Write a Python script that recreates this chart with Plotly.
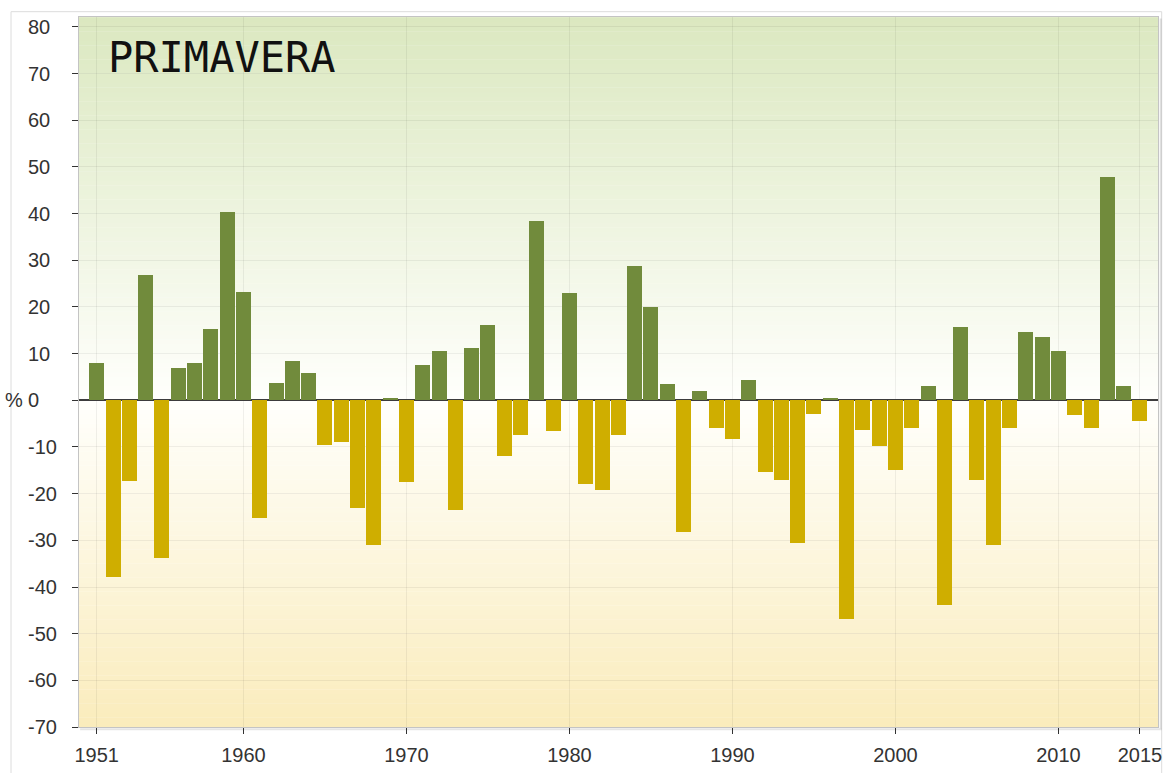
import plotly.graph_objects as go

# Spring precipitation anomaly (%) per year
years = list(range(1951, 2016))
anomaly = [
    7.9, -37.9, -17.3, 26.8, -33.8, 7.0, 7.9, 15.3, 40.3, 23.2,
    -25.3, 3.8, 8.4, 5.9, -9.6, -8.9, -23.1, -31.1, 0.5, -17.6,
    7.6, 10.6, -23.4, 11.2, 16.1, -11.9, -7.4, 38.4, -6.6, 23.0,
    -17.9, -19.2, -7.4, 28.8, 20.0, 3.6, -28.2, 2.1, -6.0, -8.2,
    4.3, -15.4, -17.0, -30.6, -2.9, 0.6, -46.8, -6.4, -9.7, -14.9,
    -5.9, 3.0, -43.8, 15.7, -17.1, -31.1, -5.9, 14.6, 13.5, 10.5,
    -3.1, -5.9, 47.9, 3.0, -4.5,
]
x_ticks = [1951, 1960, 1970, 1980, 1990, 2000, 2010, 2015]
y_ticks = list(range(-70, 81, 10))

title_text = "PRIMAVERA"
unit_text = "%"

WET = "#718b3c"
DRY = "#cfae00"
Y_MIN, Y_MAX = -70, 82.14

# plot-area geometry in pixels, used to place paper-referenced extras
PLOT_L, PLOT_W = 79, 1079.3
PLOT_B, PLOT_H = 727, 709.7


def px_x(px):
    return (px - PLOT_L) / PLOT_W


def px_y(py):
    return (PLOT_B - py) / PLOT_H


bar_colors = [WET if v >= 0 else DRY for v in anomaly]

fig = go.Figure()
fig.add_trace(go.Bar(
    x=years, y=anomaly, width=0.92,
    marker=dict(color=bar_colors, line=dict(width=0)),
    hoverinfo="skip",
))

# Vertical background gradient: green above zero, yellow below
top_rgb = (219, 232, 192)
mid_rgb = (255, 255, 252)
bot_rgb = (250, 236, 188)


def mix(a, b, t):
    return "rgb(%d,%d,%d)" % tuple(round(a[i] + (b[i] - a[i]) * t) for i in range(3))


shapes = []
step = 1.0
y = Y_MIN
while y < Y_MAX:
    y_next = min(y + step, Y_MAX)
    yc = (y + y_next) / 2
    if yc >= 0:
        col = mix(mid_rgb, top_rgb, yc / Y_MAX)
    else:
        col = mix(mid_rgb, bot_rgb, -yc / -Y_MIN)
    shapes.append(dict(type="rect", xref="paper", yref="y", x0=0, x1=1,
                       y0=y, y1=y_next + 0.05, fillcolor=col,
                       line=dict(width=0), layer="below"))
    y = y_next

# Soft shadow on the right and bottom of the plot area
shapes.append(dict(type="line", xref="paper", yref="paper", x0=1.0025, x1=1.0025,
                   y0=-0.002, y1=0.998, line=dict(color="rgba(0,0,0,0.12)", width=2)))
shapes.append(dict(type="line", xref="paper", yref="paper", x0=0.001, x1=1.0035,
                   y0=-0.003, y1=-0.003, line=dict(color="rgba(0,0,0,0.10)", width=2)))
# Outer frame around the whole chart
shapes.append(dict(type="rect", xref="paper", yref="paper",
                   x0=px_x(11), x1=px_x(1162), y0=-0.08, y1=px_y(12),
                   line=dict(color="#dcdcdc", width=1), fillcolor="rgba(0,0,0,0)",
                   layer="below"))

axis_font = dict(family="Liberation Sans, Arial, sans-serif", size=20, color="#333333")

# y tick labels are left-aligned in a column left of the axis
annotations = [
    dict(text=str(t), xref="paper", yref="y", x=px_x(26), y=t,
         xanchor="left", yanchor="middle", showarrow=False, font=axis_font)
    for t in y_ticks
]
annotations.append(dict(text=title_text, xref="paper", yref="paper",
                        x=px_x(106), y=px_y(58),
                        xanchor="left", yanchor="middle", showarrow=False,
                        font=dict(family="DejaVu Sans Mono", size=42, color="#111111")))
annotations.append(dict(text=unit_text, xref="paper", yref="y",
                        x=px_x(14), y=0, xanchor="center", yanchor="middle",
                        showarrow=False, font=axis_font))

fig.update_layout(
    width=1167, height=773,
    margin=dict(l=79, r=8.7, t=17.3, b=46, autoexpand=False),
    paper_bgcolor="white",
    plot_bgcolor="white",
    showlegend=False,
    bargap=0,
    shapes=shapes,
    annotations=annotations,
    xaxis=dict(
        range=[1949.914, 2016.11], automargin=False,
        tickmode="array", tickvals=x_ticks, ticktext=[str(t) for t in x_ticks],
        ticks="outside", ticklen=6, tickcolor="#333333", tickwidth=1,
        tickfont=axis_font, ticklabelstandoff=4,
        showgrid=True, gridcolor="rgba(0,0,0,0.06)", gridwidth=1,
        showline=True, linecolor="#c4c4c4", linewidth=1, mirror=True,
        zeroline=False, fixedrange=True,
    ),
    yaxis=dict(
        range=[Y_MIN, Y_MAX], automargin=False,
        tickmode="array", tickvals=y_ticks,
        ticks="outside", ticklen=6, tickcolor="#333333", tickwidth=1,
        showticklabels=False,
        showgrid=True, gridcolor="rgba(0,0,0,0.06)", gridwidth=1,
        showline=True, linecolor="#c4c4c4", linewidth=1, mirror=True,
        zeroline=True, zerolinecolor="#3c3c3c", zerolinewidth=2,
        fixedrange=True,
    ),
)

fig.write_html("out.html", config={"displayModeBar": False, "staticPlot": True})
